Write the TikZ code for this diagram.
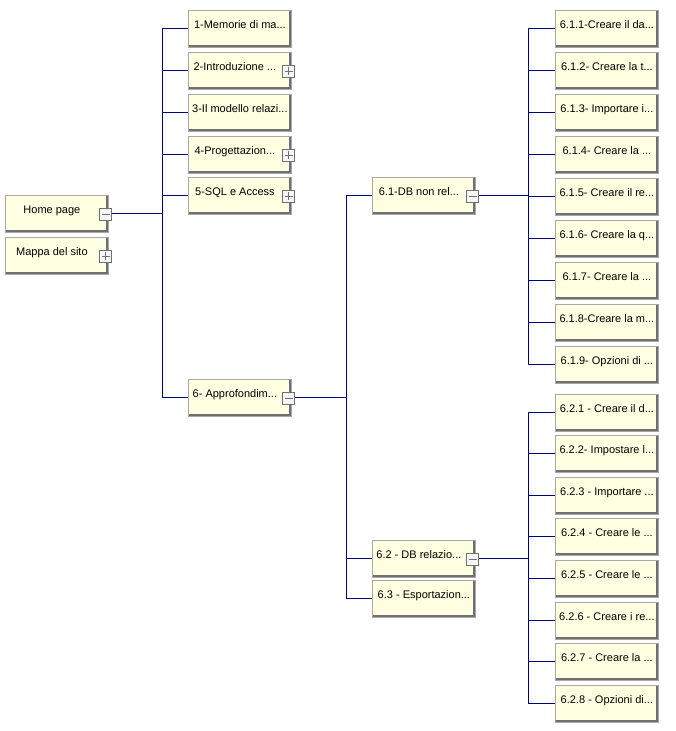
\documentclass[tikz,border=0pt]{standalone}
\usepackage{fontspec}
\setmainfont{Liberation Sans}
\usetikzlibrary{positioning, calc}
\definecolor{cream}{HTML}{FFFFE1}
\definecolor{navyline}{HTML}{000080}
\definecolor{edgegray}{HTML}{A8A8A8}
\definecolor{shadegray}{HTML}{707070}
\definecolor{togglefill}{HTML}{F6F6F6}

\tikzset{
  page/.style={draw=edgegray, line width=0.8pt, fill=cream, anchor=north west,
    minimum width=103pt, inner xsep=3pt, inner ysep=2pt,
    text height=16pt, text depth=17pt, font=\fontsize{11}{13}\selectfont,
    path picture={\draw[shadegray, line width=4pt]
      (path picture bounding box.north east) -- (path picture bounding box.south east)
      -- (path picture bounding box.south west);}},
  haschild/.style={execute at begin node={\hspace*{-10pt}}},
  toggle/.style={draw=shadegray, line width=0.8pt, fill=togglefill, minimum size=12pt, inner sep=0pt},
  tgminus/.style={toggle, path picture={\draw[shadegray, line width=0.8pt]
      ([xshift=2pt]path picture bounding box.west) -- ([xshift=-2pt]path picture bounding box.east);}},
  tgplus/.style={toggle, path picture={\draw[shadegray, line width=0.8pt]
      ([xshift=2pt]path picture bounding box.west) -- ([xshift=-2pt]path picture bounding box.east)
      ([yshift=-2pt]path picture bounding box.north) -- ([yshift=2pt]path picture bounding box.south);}},
  link/.style={draw=navyline, line width=1pt}
}

\begin{document}
\begin{tikzpicture}[x=1pt, y=-1pt]
  \fill[white] (0,0) rectangle (676,731);
  \useasboundingbox (0,0) rectangle (676,731);

  \coordinate (bus1) at (162,0);
  \coordinate (bus2) at (346,0);
  \coordinate (bus3) at (528,0);

  \node[page, haschild] (home) at (5,195) {Home page};
  \node[page, haschild] (mappa) at (5,237) {Mappa del sito};

  \node[page] (m1) at (188,10) {1-Memorie di ma...};
  \node[page, haschild] (m2) at (188,52) {2-Introduzione ...};
  \node[page] (m3) at (188,94) {3-Il modello relazi...};
  \node[page, haschild] (m4) at (188,136) {4-Progettazion...};
  \node[page, haschild] (m5) at (188,177) {5-SQL e Access};
  \node[page, haschild] (m6) at (188,379) {6- Approfondim...};

  \node[page, haschild] (s61) at (372,177) {6.1-DB non rel...};
  \node[page, haschild] (s62) at (372,540) {6.2 - DB relazio...};
  \node[page] (s63) at (372,580) {6.3 - Esportazion...};

  \foreach \top/\txt [count=\i] in {10/{6.1.1-Creare il da...}, 52/{6.1.2- Creare la t...},
      94/{6.1.3- Importare i...}, 136/{6.1.4- Creare la ...}, 178/{6.1.5- Creare il re...},
      220/{6.1.6- Creare la q...}, 262/{6.1.7- Creare la ...}, 304/{6.1.8-Creare la m...},
      346/{6.1.9- Opzioni di ...}}
    \node[page] (a\i) at (555,\top) {\txt};

  \foreach \top/\txt [count=\i] in {394/{6.2.1 - Creare il d...}, 435/{6.2.2- Impostare l...},
      477/{6.2.3 - Importare ...}, 518/{6.2.4 - Creare le ...}, 560/{6.2.5 - Creare le ...},
      602/{6.2.6 - Creare i re...}, 643/{6.2.7 - Creare la ...}, 685/{6.2.8 - Opzioni di...}}
    \node[page] (b\i) at (555,\top) {\txt};

  \node[tgminus] (home-t) at ([xshift=-3pt]home.east) {};
  \node[tgplus] (mappa-t) at ([xshift=-3pt]mappa.east) {};
  \node[tgplus] (m2-t) at ([xshift=-3pt]m2.east) {};
  \node[tgplus] (m4-t) at ([xshift=-3pt]m4.east) {};
  \node[tgplus] (m5-t) at ([xshift=-3pt]m5.east) {};
  \node[tgminus] (m6-t) at ([xshift=-3pt]m6.east) {};
  \node[tgminus] (s61-t) at ([xshift=-3pt]s61.east) {};
  \node[tgminus] (s62-t) at ([xshift=-3pt]s62.east) {};

  \draw[link] (home-t.east) -- (home-t.east -| bus1);
  \draw[link] (bus1 |- m1.west) -- (bus1 |- m6.west);
  \foreach \n in {1,...,6}
    \draw[link] (bus1 |- m\n.west) -- (m\n.west);

  \draw[link] (m6-t.east) -- (m6-t.east -| bus2);
  \draw[link] (bus2 |- s61.west) -- (bus2 |- s63.west);
  \foreach \n in {61,62,63}
    \draw[link] (bus2 |- s\n.west) -- (s\n.west);

  \draw[link] (s61-t.east) -- (s61-t.east -| bus3);
  \draw[link] (bus3 |- a1.west) -- (bus3 |- a9.west);
  \foreach \n in {1,...,9}
    \draw[link] (bus3 |- a\n.west) -- (a\n.west);

  \draw[link] (s62-t.east) -- (s62-t.east -| bus3);
  \draw[link] (bus3 |- b1.west) -- (bus3 |- b8.west);
  \foreach \n in {1,...,8}
    \draw[link] (bus3 |- b\n.west) -- (b\n.west);
\end{tikzpicture}
\end{document}
